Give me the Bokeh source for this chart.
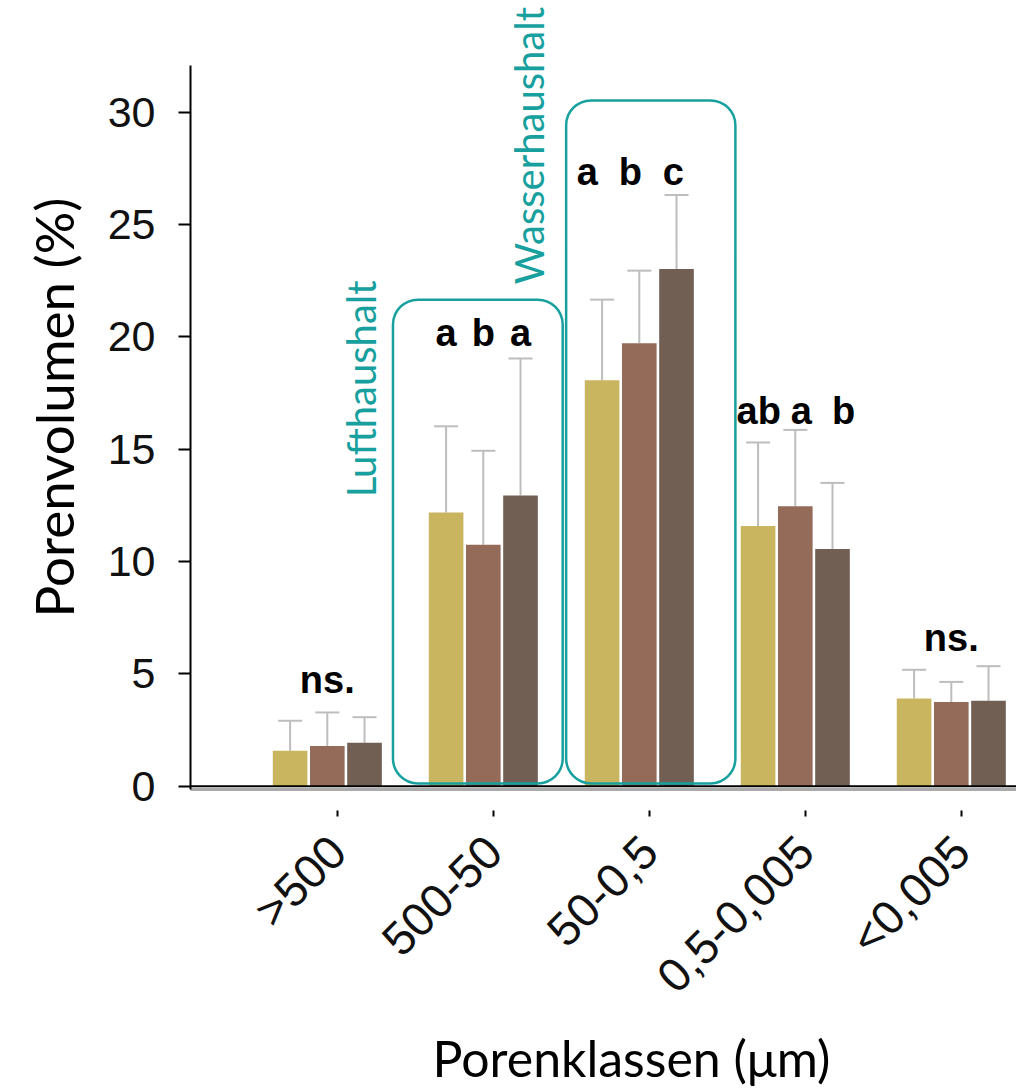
import math
from bokeh.plotting import figure
from bokeh.models import (Range1d, FixedTicker, Whisker, ColumnDataSource,
                          BoxAnnotation, Label, Span, TeeHead, Title)
from bokeh.core.properties import value
from bokeh.embed import file_html
from bokeh.resources import INLINE

# ---------------- data ----------------
categories = [">500", "500-50", "50-0,5", "0,5-0,005", "<0,005"]
series_a = [1.57, 12.18, 18.07, 11.58, 3.90]
series_b = [1.79, 10.75, 19.72, 12.46, 3.75]
series_c = [1.93, 12.94, 23.02, 10.56, 3.80]
err_a = [1.34, 3.84, 3.59, 3.72, 1.28]
err_b = [1.49, 4.18, 3.23, 3.40, 0.89]
err_c = [1.14, 6.10, 3.30, 2.94, 1.54]
sig_labels = [["ns."], ["a", "b", "a"], ["a", "b", "c"], ["ab", "a", "b"], ["ns."]]
sig_y = [4.74, 20.16, 27.36, 16.70, 6.61]
y_ticks = [0, 5, 10, 15, 20, 25, 30]

# highlighted groups (rounded boxes) and their captions
box_left = [0.356, 1.466]
box_right = [1.444, 2.551]
box_top = [21.66, 30.53]
box_bottom = [0.12, 0.12]
box_captions = ["Lufthaushalt", "Wasserhaushalt"]
caption_x = [0.153, 1.231]
caption_y = [12.86, 22.35]

# ---------------- style ----------------
colors = ["#C9B460", "#946A58", "#725F54"]
teal = "#17A09E"
group_shift = -0.065
bar_offsets = [-0.2385, 0.0, 0.2385]
bar_width = 0.222
sig_dx = [0.0, 0.0, -0.058, 0.038, 0.0]
sig_spacing = [0.2385, 0.2385, 0.276, 0.272, 0.2385]

p = figure(width=1016, height=1090,
           x_range=Range1d(-0.942, 4.353), y_range=Range1d(-0.15, 34.80),
           output_backend="svg", toolbar_location=None,
           min_border_left=190, min_border_right=0,
           min_border_top=4, min_border_bottom=301)
p.xgrid.visible = False
p.ygrid.visible = False
p.outline_line_color = None
p.background_fill_color = "white"
p.border_fill_color = "white"

series = [series_a, series_b, series_c]
errs = [err_a, err_b, err_c]
for s, (vals, ers) in enumerate(zip(series, errs)):
    xs = [i + group_shift + bar_offsets[s] for i in range(len(categories))]
    src = ColumnDataSource(dict(x=xs, top=vals,
                                upper=[v + e for v, e in zip(vals, ers)]))
    p.vbar(x="x", top="top", bottom=0, width=bar_width, source=src,
           fill_color=colors[s], line_color=None)
    w = Whisker(base="x", lower="top", upper="upper", source=src,
                line_color="#BDBDBD", line_width=2,
                upper_head=TeeHead(size=24, line_color="#BDBDBD", line_width=2),
                lower_head=None)
    p.add_layout(w)

# significance letters
tx, ty, tt = [], [], []
for i, labs in enumerate(sig_labels):
    n = len(labs)
    for s, lab in enumerate(labs):
        tx.append(i + group_shift + sig_dx[i] + (s - (n - 1) / 2) * sig_spacing[i])
        ty.append(sig_y[i])
        tt.append(lab)
p.text(x=tx, y=ty, text=tt, text_font=value("Liberation Sans"),
       text_font_style="bold", text_font_size="38px", text_color="black",
       text_align="center", text_baseline="alphabetic")

# rounded boxes
for l, r, t, b in zip(box_left, box_right, box_top, box_bottom):
    p.add_layout(BoxAnnotation(left=l, right=r, top=t, bottom=b,
                               fill_alpha=0, line_color=teal, line_alpha=1.0,
                               line_width=2.5, border_radius=25,
                               level="overlay"))
for cx, cy, txt in zip(caption_x, caption_y, box_captions):
    p.add_layout(Label(x=cx, y=cy, text=txt, angle=math.pi / 2,
                       text_font="Lato", text_font_size="40px",
                       text_color=teal, text_align="left",
                       text_baseline="alphabetic"))

# baseline (black) above the grey axis band
p.add_layout(Span(location=0, dimension="width", line_color="black",
                  line_width=2))

# y axis
p.yaxis.ticker = FixedTicker(ticks=y_ticks, minor_ticks=[])
p.yaxis.bounds = (-0.15, 32.09)
p.yaxis.axis_line_color = "black"
p.yaxis.axis_line_width = 2
p.yaxis.major_tick_line_color = "black"
p.yaxis.major_tick_line_width = 2
p.yaxis.major_tick_out = 12
p.yaxis.major_tick_in = 0
p.yaxis.minor_tick_line_color = None
p.yaxis.major_label_standoff = 23
p.yaxis.major_label_text_font = "Liberation Sans"
p.yaxis.major_label_text_font_size = "43px"
p.yaxis.major_label_text_color = "#111111"

# y axis title (offset so that it sits where the original does)
p.add_layout(Title(text="Porenvolumen (%)", align="left", offset=172,
                   text_font="Lato", text_font_size="53px",
                   text_font_style="normal", text_color="black",
                   standoff=39), "left")

# x axis
p.xaxis.ticker = FixedTicker(ticks=list(range(len(categories))), minor_ticks=[])
p.xaxis.major_label_overrides = {i: c for i, c in enumerate(categories)}
p.xaxis.major_label_orientation = math.pi / 4
p.xaxis.axis_line_color = "#AAAAAA"
p.xaxis.axis_line_width = 3
p.xaxis.major_tick_line_color = "black"
p.xaxis.major_tick_line_width = 2
p.xaxis.major_tick_in = -21
p.xaxis.major_tick_out = 27
p.xaxis.minor_tick_line_color = None
p.xaxis.major_label_standoff = 27
p.xaxis.major_label_text_font = "Liberation Sans"
p.xaxis.major_label_text_font_size = "47px"
p.xaxis.major_label_text_color = "#111111"

# x axis title (offset so that it sits where the original does)
p.add_layout(Title(text="Porenklassen (μm)", align="left", offset=242,
                   text_font="Lato", text_font_size="50px",
                   text_font_style="normal", text_color="black",
                   standoff=2), "below")

open("out.html", "w").write(file_html(p, INLINE))
